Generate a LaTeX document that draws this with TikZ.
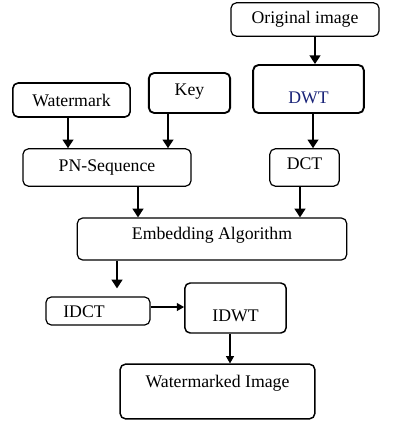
\documentclass[tikz,border=0pt]{standalone}
\usepackage{fontspec}
\setmainfont{Liberation Serif}
\usetikzlibrary{arrows.meta}
\definecolor{navy}{RGB}{25,35,120}

\begin{document}
\begin{tikzpicture}[x=0.75pt,y=-0.75pt,->,>={Triangle[length=6.5pt,width=8pt]},
  thick,font=\fontsize{13.3}{16}\selectfont,
  box/.style={draw,rounded corners=4pt,line width=0.9pt,inner sep=0pt},
  heavy/.style={box,line width=1.4pt},
  flow/.style={line width=1.5pt},
  thin flow/.style={line width=0.9pt,>={Triangle[length=5.5pt,width=6pt]}}]
  \useasboundingbox (0,0) rectangle (409,424);

  \node[box,minimum width=111pt,minimum height=25pt] (orig) at (305,19.5) {Original image};
  \node[heavy,minimum width=83pt,minimum height=36pt,
    label={[text=navy,shift={(0,9)}]center:DWT}] (dwt) at (308.5,89) {};
  \node[box,line width=1.2pt,minimum width=88pt,minimum height=25.5pt] (wm) at (71.5,100) {Watermark};
  \node[heavy,minimum width=61pt,minimum height=30pt,
    label={[shift={(0,-1)}]center:Key}] (key) at (189.5,93) {};
  \node[box,minimum width=126pt,minimum height=28pt] (pn) at (107,167.5) {PN-Sequence};
  \node[box,minimum width=52pt,minimum height=28pt,
    label={[shift={(0,-4)}]center:DCT}] (dct) at (304.5,167.5) {};
  \node[box,minimum width=202pt,minimum height=31.5pt,
    label={[shift={(0,-4)}]center:Embedding Algorithm}] (emb) at (212,239) {};
  \node[box,minimum width=78pt,minimum height=21pt,
    label={[shift={(-14,1)}]center:IDCT}] (idct) at (98,311) {};
  \node[box,line width=1.1pt,minimum width=76pt,minimum height=37.5pt,
    label={[shift={(0,8)}]center:IDWT}] (idwt) at (235.5,308) {};
  \node[box,line width=1.1pt,minimum width=146pt,minimum height=41pt,
    label={[shift={(0,-8)}]center:Watermarked Image}] (wmi) at (217.5,391.5) {};

  \draw[flow] (orig.south -| 315,0) -- (dwt.north -| 315,0);
  \draw[flow] (wm.south -| 68,0) -- (pn.north -| 68,0);
  \draw[flow] (key.south -| 168,0) -- (pn.north -| 168,0);
  \draw[flow] (dwt.south -| 313,0) -- (dct.north -| 313,0);
  \draw[flow] (pn.south -| 138,0) -- (emb.north -| 138,0);
  \draw[flow] (dct.south -| 300,0) -- (emb.north -| 300,0);
  \draw[flow,shorten >=6pt] (emb.south -| 117,0) -- (idct.north -| 117,0);
  \draw[thin flow] (idct.east |- 0,307) -- (idwt.west |- 0,307);
  \draw[thin flow] (idwt.south -| 230,0) -- (wmi.north -| 230,0);
\end{tikzpicture}
\end{document}
